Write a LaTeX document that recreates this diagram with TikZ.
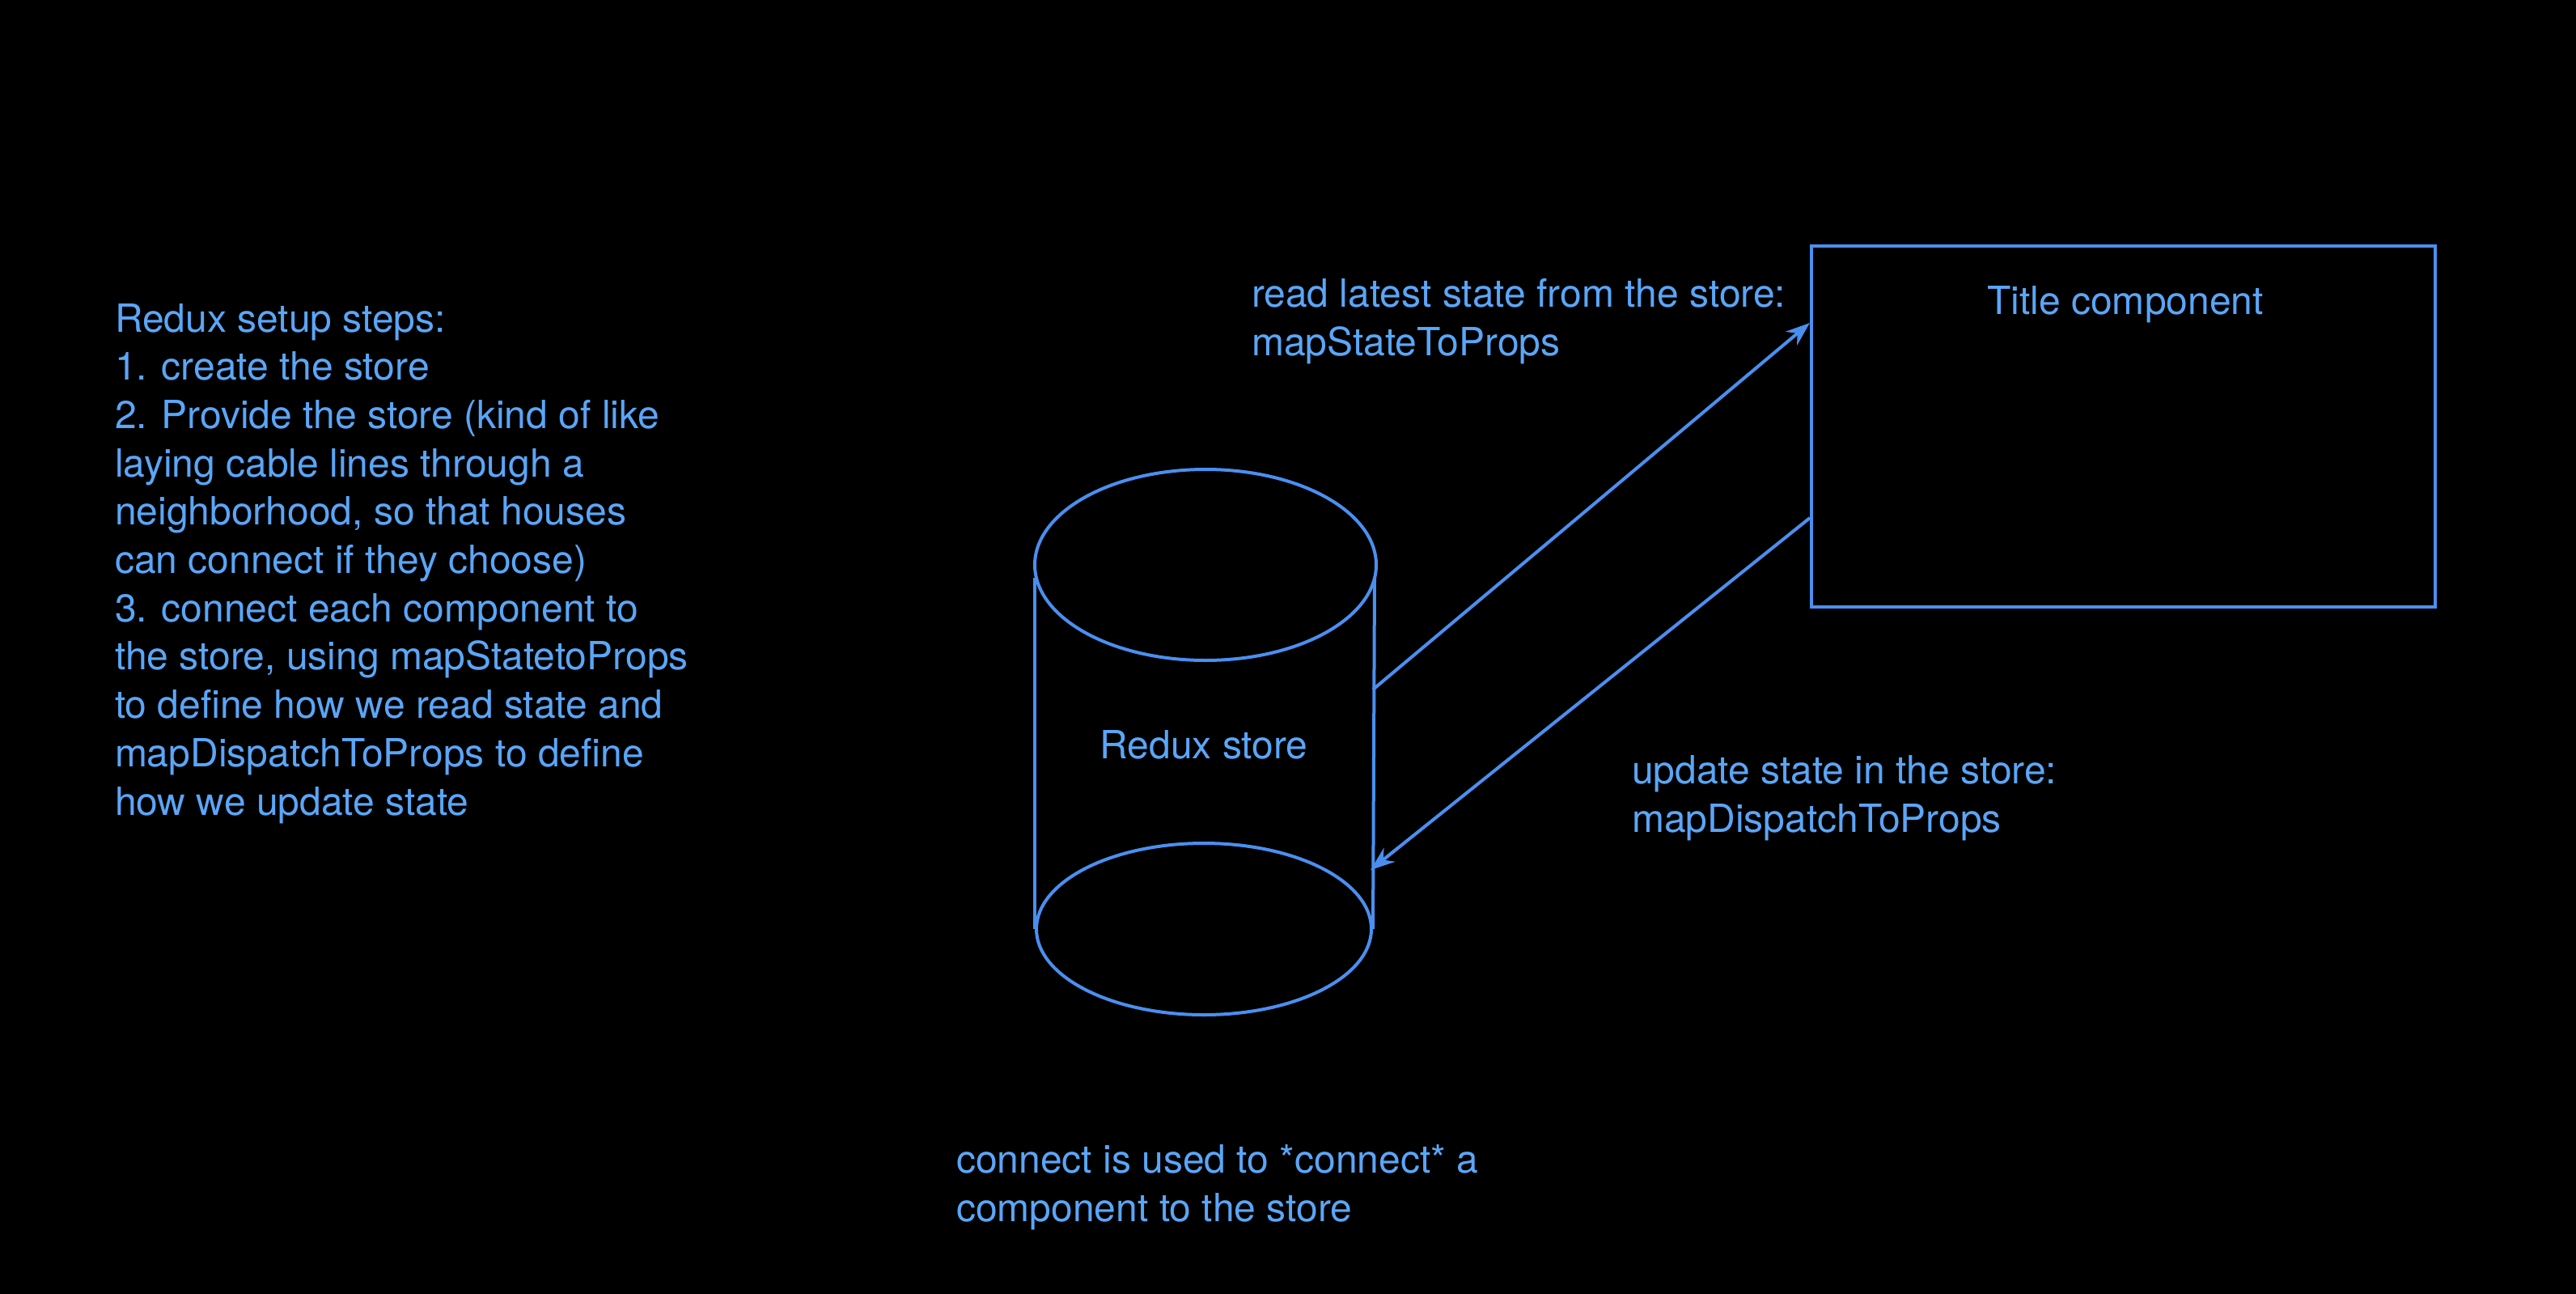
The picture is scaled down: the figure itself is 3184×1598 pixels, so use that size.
\documentclass[tikz,border=0pt]{standalone}
\usepackage{fontspec}
\setmainfont{TeX Gyre Heros}
\usepackage{tikz}
\usetikzlibrary{arrows.meta,positioning,shapes.geometric}
\usepackage{xcolor}
\definecolor{redux-line}{HTML}{4A8FF0}
\definecolor{redux-text}{HTML}{5AA6F7}
\definecolor{redux-back}{HTML}{000000}

\begin{document}
\begin{tikzpicture}[x=1pt, y=-1pt, >={Stealth[length=30pt,width=22pt,inset=10pt]},
    line width=4pt, redux-line]
  \tikzset{note/.style={text=redux-text, inner sep=0pt, align=left, anchor=base west,
      font=\fontsize{48}{59.7}\selectfont}}
  \tikzset{lid/.style={draw, ellipse, inner sep=0pt}}

  %% Background
  \useasboundingbox (0,0) rectangle (3184,1598);
  \fill[redux-back] (-10,-10) rectangle (3194,1608);

  %% Steps (anchored at the last line)
  \node[note] (steps) at (140,1007) {Redux setup steps:\\
    1. create the store\\
    2. Provide the store (kind of like\\
    laying cable lines through a\\
    neighborhood, so that houses\\
    can connect if they choose)\\
    3. connect each component to\\
    the store, using mapStatetoProps\\
    to define how we read state and\\
    mapDispatchToProps to define\\
    how we update state};

  %% Store
  \node[lid, minimum width=422, minimum height=236] (top)    at (1490,698)  {};
  \node[lid, minimum width=414, minimum height=212] (bottom) at (1488,1148) {};
  \draw ([shift={(2,16)}]top.west) -- (bottom.west);
  \draw ([shift={(-4,15)}]top.east) -- (bottom.east);
  \node[note, anchor=base] (store) at (1488,937) {Redux store};
  \coordinate (read)   at (1697,852);
  \coordinate (update) at (1694,1075);

  %% Component
  \node[draw, minimum width=771, minimum height=446, inner sep=0pt] (comp) at (2624.5,527) {};
  \node[note, anchor=base] (title) at (2627,388) {Title component};

  %% Labels
  \node[note] (readlbl)   at (1545,439)  {read latest state from the store:\\ mapStateToProps};
  \node[note] (updatelbl) at (2015,1028) {update state in the store:\\ mapDispatchToProps};
  \node[note] (connect)   at (1180,1509) {connect is used to *connect* a\\ component to the store};

  %% Arrows
  \path[->]
    (read) edge ([yshift=-97pt]comp.north west)
    ([yshift=-338pt]comp.north west) edge (update);
\end{tikzpicture}
\end{document}
